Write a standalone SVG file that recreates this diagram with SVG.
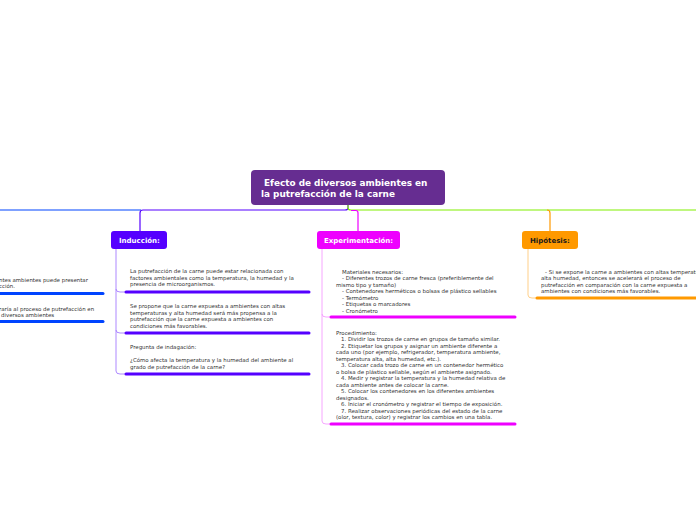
<svg xmlns="http://www.w3.org/2000/svg" width="696" height="520" viewBox="0 0 696 520">
<style>
.t{font-family:"DejaVu Sans",Verdana,sans-serif;font-size:5.45px;fill:#333}
.h{font-family:"DejaVu Sans",Verdana,sans-serif;font-weight:bold;font-size:7px;fill:#fff}
.c{fill:none;stroke-width:1.2}
.u{fill:none;stroke-width:3;stroke-linecap:round}
.s{fill:none;stroke-width:0.9}
</style>
<rect width="696" height="520" fill="#fff"/>
<g id="connectors">
<path class="c" stroke="#0044ff" d="M0,210 H141"/>
<path class="c" stroke="#5500ff" d="M348,205 V208 Q348,210 345,210 H143 Q140,210 140,213 V231"/>
<path class="c" stroke="#80f000" d="M348,205 V208 Q348,210 351,210 H696"/>
<path class="c" stroke="#ee00ff" d="M351,210.5 H356 Q358,210.5 358,213 V231"/>
<path class="c" stroke="#ff9900" d="M547,210 Q550,210 550,213 V231"/>
<path class="s" stroke="#a47cff" d="M116,249 V289 Q116,292 120,292 H126 M116,289 V330 Q116,333 120,333 H126 M116,330 V371 Q116,374 120,374 H126"/>
<path class="s" stroke="#f59cff" d="M322,249 V314 Q322,317 326,317 H331 M322,314 V421 Q322,424 326,424 H331"/>
<path class="s" stroke="#ffc97a" d="M528,249 V295 Q528,298 532,298 H537"/>
</g>
<g id="central">
<rect x="251" y="170" width="194" height="35" rx="4" fill="#662d91"/>
<text class="h" style="font-size:8.9px" x="264" y="186">Efecto de diversos ambientes en</text>
<text class="h" style="font-size:8.9px" x="261" y="197">la putrefacción de la carne</text>
</g>
<g id="left-node">
<text class="t" x="-1" y="282">ntes ambientes puede presentar</text>
<text class="t" x="-1" y="288">cción.</text>
<path class="u" stroke="#0044ff" d="M0,293.5 H103"/>
<text class="t" x="-1" y="311">raría al proceso de putrefacción en</text>
<text class="t" x="1" y="317">diversos ambientes</text>
<path class="u" stroke="#0044ff" d="M0,321.5 H103"/>
</g>
<g id="induccion">
<rect x="111" y="231" width="56" height="18" rx="3" fill="#5500ff"/>
<text class="h" x="119" y="243">Inducción:</text>
</g>
<g id="induccion-1">
<text class="t" x="130" y="273">La putrefacción de la carne puede estar relacionada con</text>
<text class="t" x="130" y="279.5">factores ambientales como la temperatura, la humedad y la</text>
<text class="t" x="130" y="286">presencia de microorganismos.</text>
<path class="u" stroke="#5500ff" d="M126,292 H309"/>
</g>
<g id="induccion-2">
<text class="t" x="130" y="308">Se propone que la carne expuesta a ambientes con altas</text>
<text class="t" x="130" y="314.5">temperaturas y alta humedad será más propensa a la</text>
<text class="t" x="130" y="321">putrefacción que la carne expuesta a ambientes con</text>
<text class="t" x="130" y="327.5">condiciones más favorables.</text>
<path class="u" stroke="#5500ff" d="M126,333 H309"/>
</g>
<g id="induccion-3">
<text class="t" x="130" y="349">Pregunta de indagación:</text>
<text class="t" x="130" y="362">¿Cómo afecta la temperatura y la humedad del ambiente al</text>
<text class="t" x="130" y="368.5">grado de putrefacción de la carne?</text>
<path class="u" stroke="#5500ff" d="M126,374 H309"/>
</g>
<g id="experimentacion">
<rect x="317" y="231" width="83" height="18" rx="3" fill="#ee00ff"/>
<text class="h" x="324" y="243">Experimentación:</text>
</g>
<g id="materiales">
<text class="t" x="342" y="273.5">Materiales necesarios:</text>
<text class="t" x="342" y="280">- Diferentes trozos de carne fresca (preferiblemente del</text>
<text class="t" x="336" y="286.5">mismo tipo y tamaño)</text>
<text class="t" x="342" y="293">- Contenedores herméticos o bolsas de plástico sellables</text>
<text class="t" x="342" y="299.5">- Termómetro</text>
<text class="t" x="342" y="306">- Etiquetas o marcadores</text>
<text class="t" x="342" y="312.5">- Cronómetro</text>
<path class="u" stroke="#ee00ff" d="M331,317 H515"/>
</g>
<g id="procedimiento">
<text class="t" x="336" y="334.5">Procedimiento:</text>
<text class="t" x="341" y="341">1. Dividir los trozos de carne en grupos de tamaño similar.</text>
<text class="t" x="341" y="347.5">2. Etiquetar los grupos y asignar un ambiente diferente a</text>
<text class="t" x="336" y="354">cada uno (por ejemplo, refrigerador, temperatura ambiente,</text>
<text class="t" x="336" y="360.5">temperatura alta, alta humedad, etc.).</text>
<text class="t" x="341" y="367">3. Colocar cada trozo de carne en un contenedor hermético</text>
<text class="t" x="336" y="373.5">o bolsa de plástico sellable, según el ambiente asignado.</text>
<text class="t" x="341" y="380">4. Medir y registrar la temperatura y la humedad relativa de</text>
<text class="t" x="336" y="386.5">cada ambiente antes de colocar la carne.</text>
<text class="t" x="341" y="393">5. Colocar los contenedores en los diferentes ambientes</text>
<text class="t" x="336" y="399.5">designados.</text>
<text class="t" x="341" y="406">6. Iniciar el cronómetro y registrar el tiempo de exposición.</text>
<text class="t" x="341" y="412.5">7. Realizar observaciones periódicas del estado de la carne</text>
<text class="t" x="336" y="419">(olor, textura, color) y registrar los cambios en una tabla.</text>
<path class="u" stroke="#ee00ff" d="M331,424 H515"/>
</g>
<g id="hipotesis">
<rect x="522" y="231" width="56" height="18" rx="3" fill="#ff9900"/>
<text class="h" style="fill:#1a1a1a" x="530" y="243">Hipótesis:</text>
</g>
<g id="hipotesis-1">
<text class="t" x="545" y="273.5">- Si se expone la carne a ambientes con altas temperaturas y</text>
<text class="t" x="541" y="280">alta humedad, entonces se acelerará el proceso de</text>
<text class="t" x="541" y="286.5">putrefacción en comparación con la carne expuesta a</text>
<text class="t" x="541" y="293">ambientes con condiciones más favorables.</text>
<path class="u" stroke="#ff9900" d="M537,298 H697"/>
</g>
</svg>
